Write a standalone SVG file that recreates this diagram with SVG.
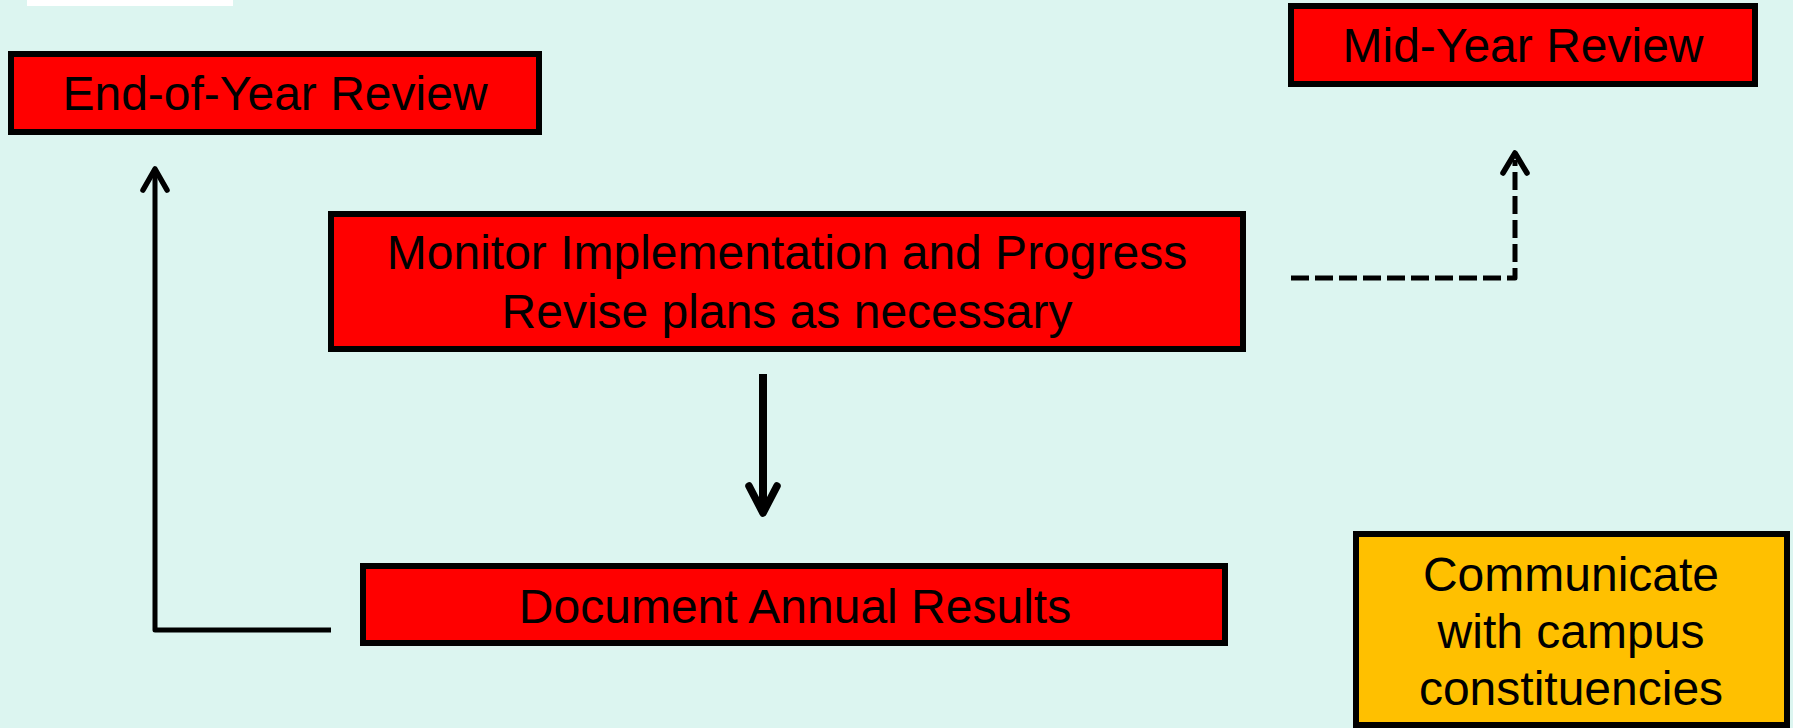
<svg xmlns="http://www.w3.org/2000/svg" width="1793" height="728" viewBox="0 0 1793 728">
  <style>
    .box { stroke: #000; stroke-width: 6; }
    .red { fill: #FF0000; }
    .gold { fill: #FFC000; }
    .lbl { font-family: "Liberation Sans", Arial, sans-serif; font-size: 48px; fill: #000; text-anchor: middle; }
    .conn { fill: none; stroke: #000; stroke-linejoin: round; }
    .head { fill: none; stroke: #000; stroke-linejoin: round; stroke-linecap: round; }
  </style>
  <rect x="0" y="0" width="1793" height="728" fill="#DCF5F0"/>
  <rect x="27" y="0" width="206" height="6" fill="#FFFFFF"/>

  <g id="connectors">
    <polyline class="conn" points="331,630 155,630 155,172" stroke-width="5" stroke-linejoin="miter"/>
    <polyline class="head" points="143,190 155,169 167,190" stroke-width="5.5"/>
    <line class="conn" x1="763" y1="374" x2="763" y2="510" stroke-width="8"/>
    <polyline class="head" points="749,486 763,513 777,486" stroke-width="7.5"/>
    <polyline class="conn" points="1291,278 1515,278 1515,160" stroke-width="5" stroke-dasharray="18 6" stroke-linejoin="miter"/>
    <polyline class="head" points="1503,173 1515,153 1527,173" stroke-width="5.5"/>
  </g>

  <g id="end-of-year">
    <rect class="box red" x="11" y="54" width="528" height="78"/>
    <text class="lbl" x="275" y="110">End-of-Year Review</text>
  </g>

  <g id="mid-year">
    <rect class="box red" x="1291" y="6" width="464" height="78"/>
    <text class="lbl" x="1523" y="62">Mid-Year Review</text>
  </g>

  <g id="monitor">
    <rect class="box red" x="331" y="214" width="912" height="135"/>
    <text class="lbl" x="787" y="269">Monitor Implementation and Progress</text>
    <text class="lbl" x="787" y="328">Revise plans as necessary</text>
  </g>

  <g id="document">
    <rect class="box red" x="363" y="566" width="862" height="77"/>
    <text class="lbl" x="795" y="623">Document Annual Results</text>
  </g>

  <g id="communicate">
    <rect class="box gold" x="1356" y="534" width="431" height="191"/>
    <text class="lbl" x="1571" y="591">Communicate</text>
    <text class="lbl" x="1571" y="648">with campus</text>
    <text class="lbl" x="1571" y="705">constituencies</text>
  </g>
</svg>
